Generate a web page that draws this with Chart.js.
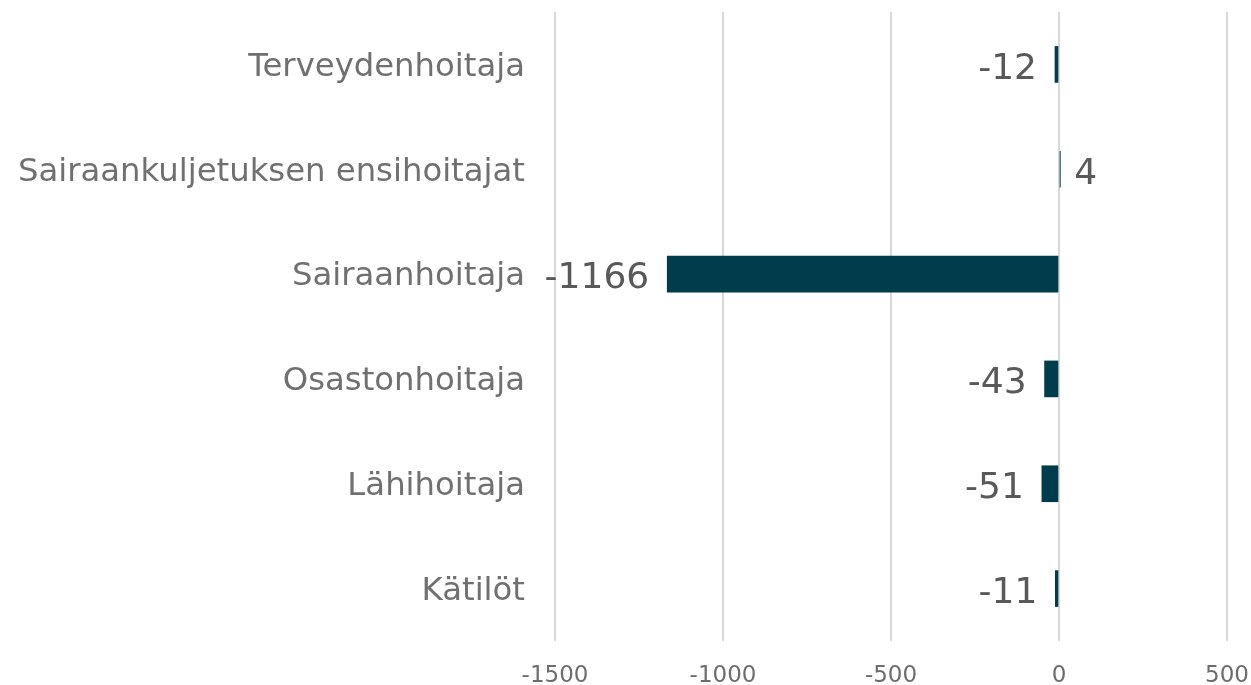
<!DOCTYPE html>
<html>
<head>
<meta charset="utf-8">
<script src="https://cdn.jsdelivr.net/npm/chart.js@4/dist/chart.umd.min.js"></script>
<style>
  html, body { margin: 0; padding: 0; background: #fff; }
  #wrap { width: 1251px; height: 685px; position: relative; }
</style>
</head>
<body>
<div id="wrap"><canvas id="chart"></canvas></div>
<script>
const categories = ["Terveydenhoitaja", "Sairaankuljetuksen ensihoitajat", "Sairaanhoitaja", "Osastonhoitaja", "Lähihoitaja", "Kätilöt"];
const values = [-12, 4, -1166, -43, -51, -11];
const xTicks = [-1500, -1000, -500, 0, 500];

const fontFamily = "'DejaVu Sans', Verdana, sans-serif";

// labels next to bar ends
const barLabels = {
  id: "barLabels",
  afterDatasetsDraw(chart) {
    const ctx = chart.ctx;
    const meta = chart.getDatasetMeta(0);
    ctx.save();
    ctx.font = "36px " + fontFamily;
    ctx.fillStyle = "#595959";
    ctx.textBaseline = "middle";
    meta.data.forEach((bar, i) => {
      const v = values[i];
      if (v < 0) {
        ctx.textAlign = "right";
        ctx.fillText(String(v), bar.x - 18, bar.y + 5);
      } else {
        ctx.textAlign = "left";
        ctx.fillText(String(v), bar.x + 14, bar.y + 5);
      }
    });
    ctx.restore();
  }
};

new Chart(document.getElementById("chart").getContext("2d"), {
  type: "bar",
  data: {
    labels: categories,
    datasets: [{
      data: values,
      backgroundColor: "#003d4c",
      barThickness: 36,
      borderWidth: 0
    }]
  },
  options: {
    indexAxis: "y",
    responsive: true,
    maintainAspectRatio: false,
    animation: false,
    layout: { padding: { top: 12, right: 24, left: 0, bottom: 0 } },
    plugins: {
      legend: { display: false },
      tooltip: { enabled: false }
    },
    scales: {
      x: {
        min: -1500,
        max: 500,
        afterBuildTicks: scale => { scale.ticks = xTicks.map(v => ({ value: v })); },
        afterFit: scale => {
          scale.height = 44;
          scale.paddingLeft = 0;
          scale.paddingRight = 0;
        },
        border: { display: false },
        grid: { color: "#d9d9d9", lineWidth: 2, drawTicks: false },
        ticks: {
          color: "#6d6d6d",
          padding: 21,
          maxRotation: 0,
          font: { family: fontFamily, size: 23 },
          callback: v => String(v)
        }
      },
      y: {
        afterFit: scale => {
          scale.width = 555;
          scale.paddingTop = 0;
          scale.paddingBottom = 0;
        },
        border: { display: false },
        grid: { display: false, drawTicks: false },
        ticks: {
          color: "#707070",
          padding: 30,
          labelOffset: 3,
          font: { family: fontFamily, size: 32.3 }
        }
      }
    }
  },
  plugins: [barLabels]
});
</script>
</body>
</html>
